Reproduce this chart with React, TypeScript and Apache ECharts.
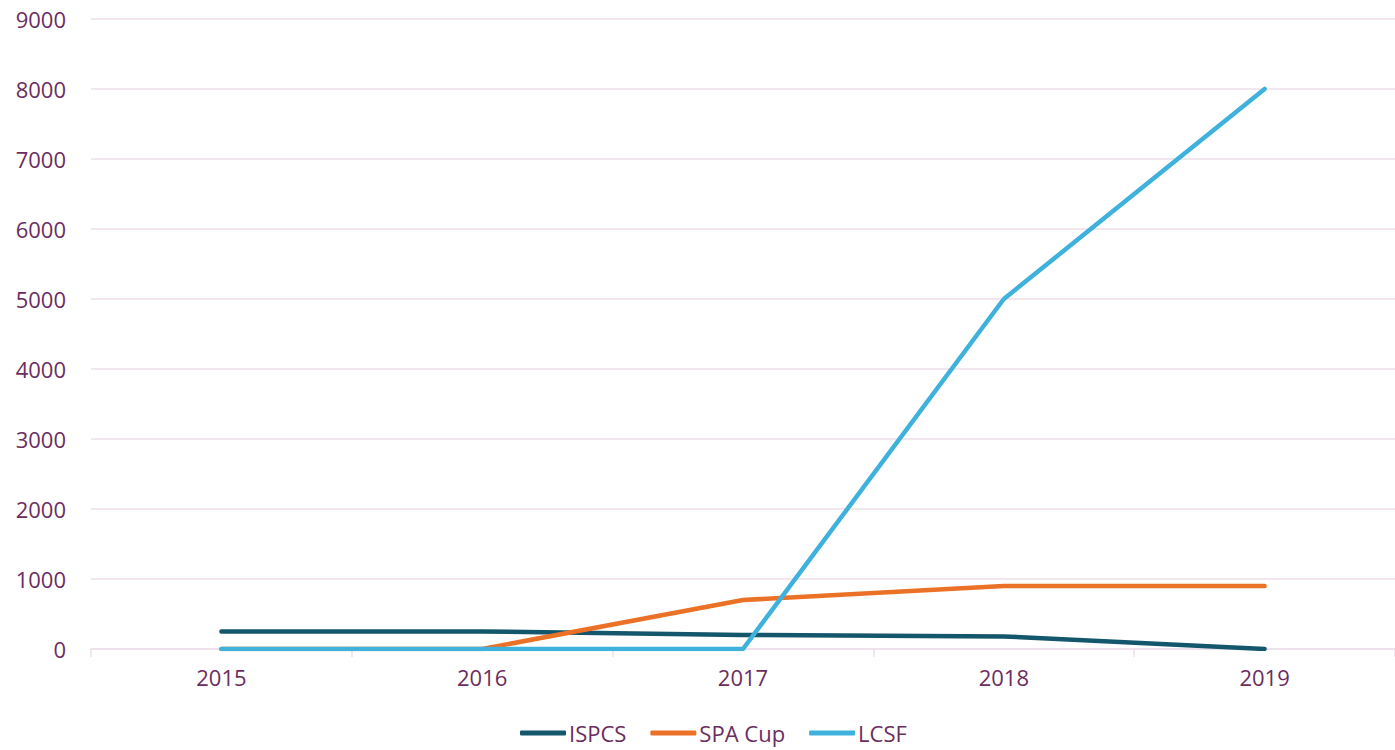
import React, { useEffect, useRef } from "react";
import * as echarts from "echarts";

const years = ["2015", "2016", "2017", "2018", "2019"];
const ispcs = [250, 250, 200, 180, 0];
const spaCup = [0, 0, 700, 900, 900];
const lcsf = [0, 0, 0, 5000, 8000];

const textColor = "#6B2D5E";
const gridColor = "#EEDFEA";
const font = "Open Sans";

export default function App() {
  const ref = useRef<HTMLDivElement>(null);
  useEffect(() => {
    const chart = echarts.init(ref.current!, null, { renderer: "svg" });
    const mk = (name: string, data: number[], color: string) => ({
      name,
      type: "line",
      data,
      symbol: "none",
      lineStyle: { width: 4.5, color, cap: "round", join: "round" },
      itemStyle: { color },
    });
    chart.setOption({
      animation: false,
      backgroundColor: "#ffffff",
      textStyle: { fontFamily: font, color: textColor },
      grid: { left: 91, width: 1308, top: 19, bottom: 101, containLabel: false },
      xAxis: {
        type: "category",
        data: years,
        boundaryGap: true,
        axisLine: { show: true, lineStyle: { color: gridColor, width: 1.5 } },
        axisTick: { show: true, length: 8, lineStyle: { color: gridColor, width: 1.5 } },
        axisLabel: { color: textColor, fontSize: 22, fontFamily: font, margin: 17 },
        splitLine: { show: false },
      },
      yAxis: {
        type: "value",
        min: 0,
        max: 9000,
        interval: 1000,
        axisLine: { show: false },
        axisTick: { show: false },
        axisLabel: {
          color: textColor,
          fontSize: 22,
          fontFamily: font,
          margin: 25,
          formatter: (v: number) => String(v),
        },
        splitLine: { lineStyle: { color: gridColor, width: 1.5 } },
      },
      legend: {
        bottom: 1,
        left: 515,
        icon: "roundRect",
        itemWidth: 46,
        itemHeight: 5,
        itemGap: 24,
        textStyle: { color: textColor, fontSize: 22, fontFamily: font, padding: [0, 0, 0, -2] },
        data: ["ISPCS", "SPA Cup", "LCSF"],
      },
      series: [
        mk("ISPCS", ispcs, "#14566B"),
        mk("SPA Cup", spaCup, "#EA7125"),
        mk("LCSF", lcsf, "#3EB2DC"),
      ],
    });
    return () => chart.dispose();
  }, []);
  return (
    <div
      ref={ref}
      style={{ position: "fixed", left: 0, top: 0, width: 1395, height: 750 }}
    />
  );
}
